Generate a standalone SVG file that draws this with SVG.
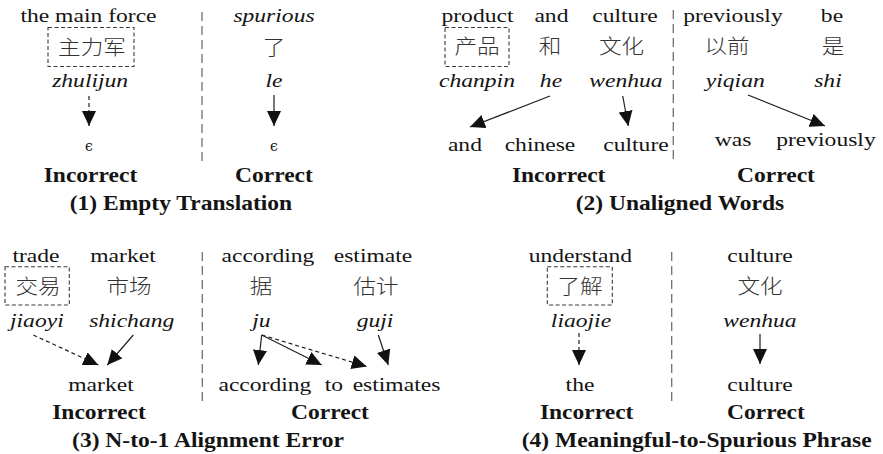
<svg xmlns="http://www.w3.org/2000/svg" width="883" height="454" viewBox="0 0 883 454">
  <style>
    text { fill: #141414; text-anchor: middle; font-family: "Liberation Serif", "Times New Roman", "DejaVu Serif", serif; transform-box: fill-box; transform-origin: center; }
    .r { font-size: 18px; transform: scaleX(1.31); }
    .i { font-style: italic; font-size: 18px; transform: scaleX(1.31); }
    .z { font-family: "Noto Sans CJK SC", "Noto Sans CJK TC", sans-serif; font-weight: 300; font-size: 20px; fill: #333; transform: scaleX(1.13); }
    .b { font-weight: bold; font-size: 21px; transform: scaleX(1.12); }
    .e { font-family: "DejaVu Serif", serif; font-size: 14px; }
    .box { fill: none; stroke: #3a3a3a; stroke-width: 1.1; stroke-dasharray: 4 2.5; }
    .sep { stroke: #707070; stroke-width: 1.3; stroke-dasharray: 9 5; fill: none; }
    .a { stroke: #1e1e1e; stroke-width: 1.2; fill: none; marker-end: url(#head); }
    .ad { stroke-dasharray: 4 3; }
  </style>
  <defs>
    <marker id="head" markerUnits="userSpaceOnUse" viewBox="0 0 15 14" refX="15" refY="7" markerWidth="15" markerHeight="14" orient="auto">
      <path d="M0,0 L15,7 L0,14 z" fill="#111"/>
    </marker>
  </defs>

  <!-- (1) Empty Translation -->
  <g id="p1-src-zhulijun">
    <text class="r" x="88.5" y="22">the main force</text>
    <rect class="box" x="48" y="27.5" width="86" height="39"/>
    <text class="z" x="92" y="55.5">主力军</text>
    <text class="i" x="90" y="87">zhulijun</text>
  </g>
  <g id="p1-tgt-eps-incorrect"><text class="e" x="89" y="151">ϵ</text></g>
  <g id="p1-src-le">
    <text class="i" x="274" y="22">spurious</text>
    <text class="z" x="274" y="55.5">了</text>
    <text class="i" x="274" y="87">le</text>
  </g>
  <g id="p1-tgt-eps-correct"><text class="e" x="274" y="151">ϵ</text></g>
  <g id="p1-labels">
    <text class="b" x="90.5" y="182.5">Incorrect</text>
    <text class="b" x="274" y="182.5">Correct</text>
    <text class="b" x="181" y="210">(1) Empty Translation</text>
  </g>

  <!-- (2) Unaligned Words -->
  <g id="p2-src-chanpin">
    <text class="r" x="477.5" y="22">product</text>
    <rect class="box" x="445" y="27.5" width="64" height="39"/>
    <text class="z" x="477" y="54.5">产品</text>
    <text class="i" x="477" y="87">chanpin</text>
  </g>
  <g id="p2-src-he">
    <text class="r" x="551.5" y="22">and</text>
    <text class="z" x="550" y="54.5">和</text>
    <text class="i" x="551" y="87">he</text>
  </g>
  <g id="p2-src-wenhua">
    <text class="r" x="625" y="22">culture</text>
    <text class="z" x="621.5" y="54.5">文化</text>
    <text class="i" x="626" y="87">wenhua</text>
  </g>
  <g id="p2-src-yiqian">
    <text class="r" x="733" y="22">previously</text>
    <text class="z" x="727" y="54.5">以前</text>
    <text class="i" x="735" y="87">yiqian</text>
  </g>
  <g id="p2-src-shi">
    <text class="r" x="832" y="22">be</text>
    <text class="z" x="833" y="54.5">是</text>
    <text class="i" x="828" y="87">shi</text>
  </g>
  <g id="p2-tgt-and"><text class="r" x="465" y="151.5">and</text></g>
  <g id="p2-tgt-chinese"><text class="r" x="540" y="151.5">chinese</text></g>
  <g id="p2-tgt-culture"><text class="r" x="636" y="151.5">culture</text></g>
  <g id="p2-tgt-was"><text class="r" x="733" y="146.5">was</text></g>
  <g id="p2-tgt-previously"><text class="r" x="826" y="146.5">previously</text></g>
  <g id="p2-labels">
    <text class="b" x="558.7" y="182">Incorrect</text>
    <text class="b" x="776" y="182">Correct</text>
    <text class="b" x="680" y="210">(2) Unaligned Words</text>
  </g>

  <!-- (3) N-to-1 Alignment Error -->
  <g id="p3-src-jiaoyi">
    <text class="r" x="36" y="261.7">trade</text>
    <rect class="box" x="5" y="266.7" width="64.3" height="38.3"/>
    <text class="z" x="38" y="294">交易</text>
    <text class="i" x="36.5" y="326.7">jiaoyi</text>
  </g>
  <g id="p3-src-shichang">
    <text class="r" x="123" y="261.7">market</text>
    <text class="z" x="129" y="294">市场</text>
    <text class="i" x="131.7" y="326.7">shichang</text>
  </g>
  <g id="p3-src-ju">
    <text class="r" x="268" y="261.7">according</text>
    <text class="z" x="261" y="294">据</text>
    <text class="i" x="261" y="326.7">ju</text>
  </g>
  <g id="p3-src-guji">
    <text class="r" x="373" y="261.7">estimate</text>
    <text class="z" x="376" y="294">估计</text>
    <text class="i" x="375" y="326.7">guji</text>
  </g>
  <g id="p3-tgt-market"><text class="r" x="101" y="390.7">market</text></g>
  <g id="p3-tgt-according"><text class="r" x="265" y="390.7">according</text></g>
  <g id="p3-tgt-to"><text class="r" x="334" y="390.7">to</text></g>
  <g id="p3-tgt-estimates"><text class="r" x="396.5" y="390.7">estimates</text></g>
  <g id="p3-labels">
    <text class="b" x="99" y="419.3">Incorrect</text>
    <text class="b" x="330" y="419.3">Correct</text>
    <text class="b" x="208" y="446.7">(3) N-to-1 Alignment Error</text>
  </g>

  <!-- (4) Meaningful-to-Spurious Phrase -->
  <g id="p4-src-liaojie">
    <text class="r" x="580.5" y="261.7">understand</text>
    <rect class="box" x="547.3" y="266.7" width="65" height="38.3"/>
    <text class="z" x="580" y="294">了解</text>
    <text class="i" x="581" y="326.7">liaojie</text>
  </g>
  <g id="p4-tgt-the"><text class="r" x="580" y="390.7">the</text></g>
  <g id="p4-src-wenhua">
    <text class="r" x="760" y="261.7">culture</text>
    <text class="z" x="760" y="294">文化</text>
    <text class="i" x="760" y="326.7">wenhua</text>
  </g>
  <g id="p4-tgt-culture"><text class="r" x="760" y="390.7">culture</text></g>
  <g id="p4-labels">
    <text class="b" x="586.7" y="419.3">Incorrect</text>
    <text class="b" x="766" y="419.3">Correct</text>
    <text class="b" x="696.7" y="446.7">(4) Meaningful-to-Spurious Phrase</text>
  </g>

  <!-- dividers between incorrect / correct halves -->
  <g id="dividers">
    <line class="sep" x1="202" y1="12" x2="202" y2="163"/>
    <line class="sep" x1="673.3" y1="10" x2="673.3" y2="163"/>
    <line class="sep" x1="202.3" y1="252" x2="202.3" y2="402"/>
    <line class="sep" x1="671.7" y1="252" x2="671.7" y2="403"/>
  </g>

  <!-- alignment connectors -->
  <g id="connectors">
    <line class="a ad" x1="89" y1="96" x2="89" y2="126"/>
    <line class="a" x1="274" y1="95" x2="274" y2="126"/>
    <line class="a" x1="550" y1="96" x2="470" y2="127"/>
    <line class="a" x1="622.7" y1="96" x2="628.3" y2="126"/>
    <line class="a" x1="748" y1="95" x2="825" y2="126"/>
    <line class="a ad" x1="33.3" y1="335" x2="98.3" y2="365"/>
    <line class="a" x1="133.3" y1="335" x2="107.3" y2="365"/>
    <line class="a" x1="261.7" y1="335" x2="258.3" y2="365"/>
    <line class="a" x1="261.7" y1="335" x2="321.7" y2="365"/>
    <line class="a ad" x1="261.7" y1="335" x2="366.7" y2="366.5"/>
    <line class="a" x1="378.3" y1="335" x2="388.3" y2="365"/>
    <line class="a ad" x1="579" y1="333" x2="579" y2="365"/>
    <line class="a" x1="760" y1="334" x2="760" y2="364"/>
  </g>
</svg>
